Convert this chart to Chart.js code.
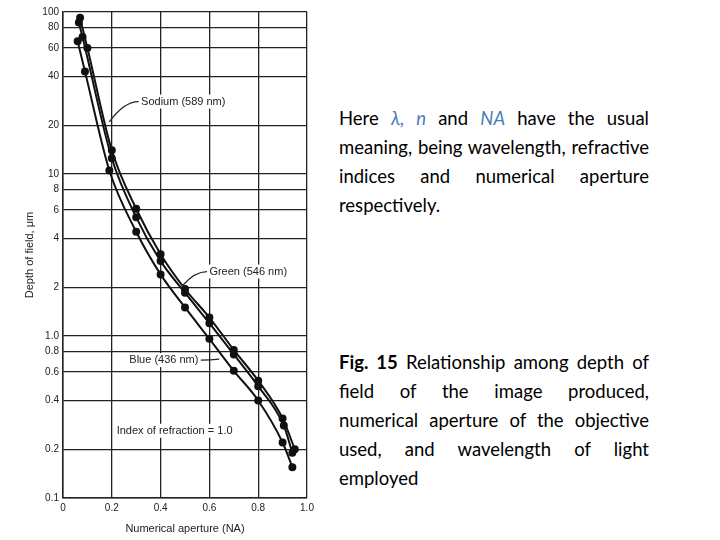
<!DOCTYPE html>
<html><head><meta charset="utf-8">
<script src="https://cdn.jsdelivr.net/npm/chart.js@4"></script>
<style>
body{margin:0;width:720px;height:540px;background:#fff;position:relative;overflow:hidden;font-family:Lato,"Open Sans",sans-serif}
#wrap{position:absolute;left:0;top:0;width:330px;height:540px}
.p{position:absolute;left:339px;width:310px;font-size:18.5px;line-height:29px;text-align:justify;color:#000}
.b{color:#4a7ebb;font-style:italic}
</style></head><body>
<div id="wrap"><canvas id="c" width="330" height="540"></canvas></div>
<div class="p" style="top:104px">Here <span class="b">λ, n</span> and <span class="b">NA</span> have the usual meaning, being wavelength, refractive indices and numerical aperture respectively.</div>
<div class="p" style="top:348px"><b>Fig. 15</b> Relationship among depth of field of the image produced, numerical aperture of the objective used, and wavelength of light employed</div>
<script>
const sodiumX=[0.07,0.1,0.2,0.3,0.4,0.5,0.6,0.7,0.8,0.9,0.95];
const sodiumY=[92,60,14,6.1,3.2,1.95,1.3,0.82,0.53,0.31,0.2];
const greenX=[0.065,0.08,0.2,0.3,0.4,0.5,0.6,0.7,0.8,0.905,0.94];
const greenY=[86,70,12.5,5.4,2.9,1.85,1.2,0.77,0.49,0.28,0.19];
const blueX=[0.06,0.09,0.19,0.3,0.4,0.5,0.6,0.7,0.8,0.9,0.94];
const blueY=[66,43,10.5,4.4,2.4,1.5,0.96,0.61,0.4,0.22,0.155];
const yTicks=[100,80,60,40,20,10,8,6,4,2,1,0.8,0.6,0.4,0.2,0.1];
const yLabels=["100","80","60","40","20","10","8","6","4","2","1.0","0.8","0.6","0.4","0.2","0.1"];
const xTicks=[0,0.2,0.4,0.6,0.8,1.0];
const xLabels=["0","0.2","0.4","0.6","0.8","1.0"];
const labels=[
 {t:"Sodium (589 nm)",x:0.32,y:28,lx:[0.31,0.19],ly:[28,21]},
 {t:"Green (546 nm)",x:0.6,y:2.5,lx:[0.59,0.49],ly:[2.5,2.05]},
 {t:"Blue (436 nm)",x:0.555,y:0.71,lx:[0.565,0.64],ly:[0.71,0.72],right:true},
 {t:"Index of refraction = 1.0",x:0.22,y:0.26}
];
const mk=(x,y)=>({data:x.map((v,i)=>({x:v,y:y[i]})),borderColor:"#111",backgroundColor:"#111",borderWidth:2,pointRadius:3,cubicInterpolationMode:"monotone"});
const ann={id:"ann",afterDatasetsDraw(ch){const c=ch.ctx,xs=ch.scales.x,ys=ch.scales.y;c.save();c.strokeStyle="#222";c.lineWidth=1.2;c.font="11px 'Liberation Sans',Arial";c.textBaseline="middle";
 labels.forEach(l=>{const px=xs.getPixelForValue(l.x),py=ys.getPixelForValue(l.y);
  const w=c.measureText(l.t).width, x0=l.right?px-w:px;
  c.fillStyle="#fff";c.fillRect(x0-3,py-7,w+6,14);
  c.fillStyle="#222";c.textAlign="left";c.fillText(l.t,x0,py);
  if(l.lx){c.beginPath();c.moveTo(xs.getPixelForValue(l.lx[0]),ys.getPixelForValue(l.ly[0]));c.quadraticCurveTo(xs.getPixelForValue((l.lx[0]+l.lx[1])/2),ys.getPixelForValue(l.ly[0]),xs.getPixelForValue(l.lx[1]),ys.getPixelForValue(l.ly[1]));c.stroke();}
 });
 c.translate(30,255);c.rotate(-Math.PI/2);c.textAlign="center";c.fillText("Depth of field, \u03bcm",0,0);
 c.restore();}};
new Chart(document.getElementById("c"),{type:"line",data:{datasets:[mk(sodiumX,sodiumY),mk(greenX,greenY),mk(blueX,blueY)]},
 plugins:[ann],
 options:{responsive:false,animation:false,layout:{padding:{left:13,right:23,top:12,bottom:0}},
 plugins:{legend:{display:false},tooltip:{enabled:false}},
 scales:{
  x:{type:"linear",min:0,max:1,afterBuildTicks:s=>{s.ticks=xTicks.map(v=>({value:v}))},afterFit:s=>{s.height=42},
   ticks:{color:"#222",font:{size:10},callback:(v,i)=>xLabels[i],maxRotation:0,padding:4},
   grid:{color:"#222",lineWidth:1.3,drawTicks:false},border:{color:"#222",width:1.5},
   title:{display:true,text:"Numerical aperture (NA)",color:"#222",font:{size:11},padding:{top:4}}},
  y:{type:"logarithmic",min:0.1,max:100,afterBuildTicks:s=>{s.ticks=yTicks.map(v=>({value:v}))},afterFit:s=>{s.width=50},
   ticks:{color:"#222",font:{size:10},callback:(v,i)=>yLabels[i],padding:4,autoSkip:false},
   grid:{color:"#222",lineWidth:1.3,drawTicks:false},border:{color:"#222",width:1.5}}
 }}});
</script></body></html>
